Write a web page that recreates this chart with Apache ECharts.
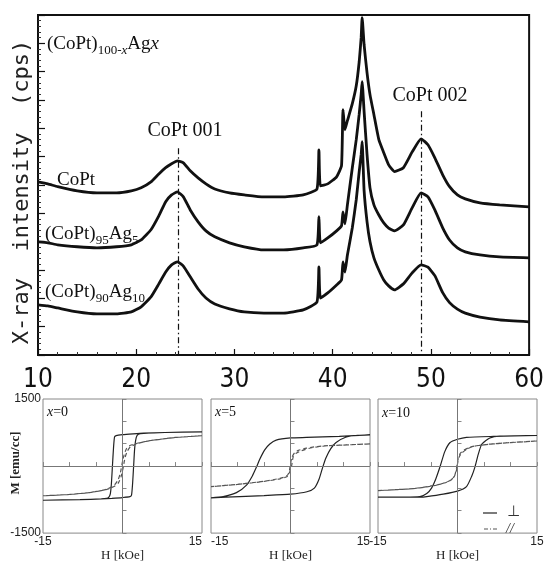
<!DOCTYPE html>
<html>
<head>
<meta charset="utf-8">
<script src="https://cdn.jsdelivr.net/npm/echarts@6/dist/echarts.min.js"></script>
<style>
html, body { margin: 0; padding: 0; background: #fff; }
#main { width: 547px; height: 563px; }
</style>
</head>
<body>
<div id="main"></div>
<script>
// XRD scans, 2theta (deg) and intensity (cps, arbitrary scale)
var twoTheta = [10, 11, 12, 14, 16, 18, 19.5, 20.5, 21.5, 22.3, 23, 23.6, 24.2, 24.8, 25.5, 26.3, 27.1, 28, 29.5, 31, 33, 35, 37,
  38.4, 38.6, 38.75, 39.5, 40.4, 40.9, 41.05, 41.25, 41.5, 42, 42.4, 42.7, 42.9, 43, 43.2, 43.5, 43.8, 44.2, 44.7, 45.2, 45.7,
  46.3, 47.2, 48.1, 49, 49.7, 50.4, 51.2, 51.9, 52.7, 53.5, 55, 57, 60];
var int_CoPt = [611, 604, 594, 579, 572, 572, 579, 590, 611, 639, 661, 675, 685, 678, 650, 625, 604, 586, 572, 565, 558, 558, 565,
  586, 724, 597, 604, 629, 668, 866, 795, 827, 887, 950, 1035, 1120, 1191, 1095, 996, 919, 848, 760, 714, 671,
  647, 661, 717, 763, 742, 696, 636, 594, 565, 551, 537, 530, 523];
var int_Ag5 = [399, 396, 389, 382, 378, 382, 389, 406, 442, 491, 541, 565, 576, 558, 512, 470, 438, 417, 396, 382, 371, 371, 378,
  389, 488, 396, 413, 438, 456, 505, 463, 530, 661, 760, 850, 920, 965, 859, 707, 590, 530, 494, 466, 448,
  438, 459, 520, 572, 558, 512, 449, 406, 378, 364, 353, 346, 343];
var int_Ag10 = [177, 173, 166, 152, 145, 145, 152, 170, 205, 251, 293, 318, 329, 314, 276, 233, 201, 180, 163, 152, 148, 148, 159,
  187, 311, 201, 219, 247, 265, 329, 293, 353, 449, 548, 647, 707, 753, 580, 470, 400, 343, 300, 265, 244,
  230, 251, 290, 318, 310, 280, 220, 185, 162, 148, 134, 124, 117];
var xrdTicks = [10, 20, 30, 40, 50, 60];
var peak001 = 24.25, peak002 = 49.0;

// M-H loops, H [kOe], M [emu/cc]; perp = solid, par = dashed
var x0_perp_H = [15, 8, 4, 2, 0, -1.2, -1.5, -1.7, -1.9, -2.1, -2.3, -2.6, -3, -4, -8, -15,
  -8, -4, -2, 0, 1.4, 1.7, 1.9, 2.1, 2.3, 2.6, 3, 4, 8, 15];
var x0_perp_M = [765, 750, 735, 720, 702, 682, 650, 400, 0, -400, -620, -700, -722, -735, -750, -765,
  -750, -735, -722, -705, -685, -650, -400, 0, 400, 640, 710, 728, 750, 765];
var x0_par_H = [15, 10, 5, 3, 1.5, 0.8, 0.3, 0, -0.4, -0.8, -1.5, -3, -6, -10, -15,
  -10, -6, -3, -1.5, -0.8, -0.3, 0.1, 0.5, 0.9, 1.5, 3, 5, 10, 15];
var x0_par_M = [680, 640, 565, 515, 465, 400, 250, 100, -150, -300, -420, -520, -590, -635, -665,
  -635, -590, -525, -450, -380, -250, -50, 200, 330, 430, 510, 565, 640, 680];

var x5_perp_H = [15, 9.2, 3, 0, -2.7, -3.9, -4.9, -5.8, -6.4, -7.2, -8.3, -10.2, -12.7, -15,
  -9.6, -5, 0, 3.1, 4.5, 5.4, 6.1, 6.7, 7.6, 8.6, 10.4, 12.3, 15];
var x5_perp_M = [697, 663, 640, 629, 581, 493, 357, 153, -17, -221, -425, -595, -683, -710,
  -683, -660, -629, -575, -493, -289, -17, 187, 391, 527, 643, 683, 697];
var x5_par_H = [15, 10, 6, 3, 1.5, 0.8, 0.3, 0, -0.3, -0.8, -2, -5, -10, -15,
  -10, -5, -2, -0.6, -0.2, 0.2, 0.5, 1, 2, 4, 7, 10, 15];
var x5_par_M = [495, 470, 450, 400, 350, 300, 200, 50, -150, -230, -275, -340, -410, -460,
  -410, -345, -285, -235, -150, 0, 200, 280, 340, 410, 455, 470, 495];

var x10_perp_H = [15, 6.8, 1.7, 0, -1.4, -2.4, -3.3, -4.1, -4.9, -5.8, -7.1, -15,
  -7, -5.8, -2.7, 0, 1.7, 2.7, 3.3, 3.9, 4.6, 6.1, 8, 15];
var x10_perp_M = [683, 663, 643, 600, 527, 323, -17, -289, -493, -615, -683, -697,
  -695, -683, -629, -561, -459, -221, -17, 255, 493, 629, 670, 683];
var x10_par_H = [15, 10, 6.8, 4, 2.4, 1, 0.5, 0.1, -0.2, -0.5, -1.2, -2.5, -4, -8, -15,
  -8, -4, -1.5, -0.6, -0.2, 0, 0.3, 0.8, 1.8, 3, 6, 10, 15];
var x10_par_M = [560, 525, 495, 460, 425, 340, 280, 150, -50, -200, -310, -380, -425, -500, -550,
  -500, -430, -330, -230, -100, 50, 200, 290, 380, 440, 490, 525, 560];

function zip(a, b) {
  var res = [];
  for (var i = 0; i < a.length; i++) res.push([a[i], b[i]]);
  return res;
}

var serif = 'Liberation Serif, DejaVu Serif, serif';
var sans = 'Liberation Sans, Arial, sans-serif';

var chart = echarts.init(document.getElementById('main'));

// top XRD grid + three hysteresis panels
var grids = [
  {left: 38, top: 15, width: 497, height: 340, show: true, borderColor: '#111', borderWidth: 2},
  {left: 43, top: 399, width: 159, height: 147, show: true, borderColor: '#888', borderWidth: 1},
  {left: 211, top: 399, width: 159, height: 147, show: true, borderColor: '#888', borderWidth: 1},
  {left: 378, top: 399, width: 159, height: 147, show: true, borderColor: '#888', borderWidth: 1}
];

var xAxes = [{
  gridIndex: 0, type: 'value', min: 10, max: 60, interval: 10,
  axisLine: {lineStyle: {color: '#111', width: 2}},
  axisTick: {inside: true, length: 6, lineStyle: {color: '#111', width: 1.2}},
  minorTick: {show: true, splitNumber: 5, length: 3, lineStyle: {color: '#333', width: 1}},
  splitLine: {show: false},
  axisLabel: {fontSize: 26, color: '#111', margin: 12, fontFamily: 'Liberation Sans Narrow, DejaVu Sans Condensed, sans-serif'}
}];
var yAxes = [{
  gridIndex: 0, type: 'value', min: 0, max: 1200, interval: 100,
  axisLine: {lineStyle: {color: '#111', width: 2}},
  axisTick: {inside: true, length: 7, lineStyle: {color: '#111', width: 1.2}},
  minorTick: {show: true, splitNumber: 5, length: 3, lineStyle: {color: '#333', width: 1}},
  splitLine: {show: false},
  axisLabel: {show: false}
}];

var minAlign = ['center', 'left', 'center'];
var maxAlign = ['right', 'right', 'center'];
for (var g = 1; g <= 3; g++) {
  xAxes.push({
    gridIndex: g, type: 'value', min: -15, max: 15, interval: 5,
    axisLine: {show: false},
    axisTick: {inside: true, length: 4, lineStyle: {color: '#888'}},
    splitLine: {show: false},
    axisLabel: {
      fontSize: 12, color: '#222', margin: 3, fontFamily: sans,
      alignMinLabel: minAlign[g - 1], alignMaxLabel: maxAlign[g - 1],
      formatter: function (v) { return (v === -15 || v === 15) ? String(v) : ''; }
    },
    name: 'H [kOe]', nameLocation: 'middle', nameGap: 6,
    nameTextStyle: {fontSize: 13, color: '#222', fontFamily: serif}
  });
  yAxes.push({
    gridIndex: g, type: 'value', min: -1500, max: 1500, interval: 500,
    axisLine: {show: false},
    axisTick: {inside: true, length: 4, lineStyle: {color: '#888'}},
    splitLine: {show: false},
    axisLabel: {
      show: g === 1, fontSize: 12, color: '#222', margin: 2, fontFamily: sans,
      formatter: function (v) { return (v === -1500 || v === 1500) ? String(v) : ''; }
    }
  });
}

var traceStyle = {color: '#111', width: 2.8};
var series = [
  {
    type: 'line', xAxisIndex: 0, yAxisIndex: 0, data: zip(twoTheta, int_CoPt),
    showSymbol: false, smooth: 0.15, lineStyle: traceStyle,
    markLine: {
      silent: true, symbol: 'none', label: {show: false},
      lineStyle: {color: '#111', width: 1.2, type: [6, 3, 1.5, 3]},
      data: [
        [{coord: [peak001, 730]}, {coord: [peak001, 0]}],
        [{coord: [peak002, 860]}, {coord: [peak002, 0]}]
      ]
    }
  },
  {type: 'line', xAxisIndex: 0, yAxisIndex: 0, data: zip(twoTheta, int_Ag5), showSymbol: false,
    smooth: 0.15, lineStyle: traceStyle},
  {type: 'line', xAxisIndex: 0, yAxisIndex: 0, data: zip(twoTheta, int_Ag10), showSymbol: false,
    smooth: 0.15, lineStyle: traceStyle}
];

var loops = [
  [x0_perp_H, x0_perp_M, x0_par_H, x0_par_M],
  [x5_perp_H, x5_perp_M, x5_par_H, x5_par_M],
  [x10_perp_H, x10_perp_M, x10_par_H, x10_par_M]
];
for (var k = 0; k < 3; k++) {
  series.push({
    type: 'line', xAxisIndex: k + 1, yAxisIndex: k + 1, data: zip(loops[k][0], loops[k][1]),
    showSymbol: false, smooth: 0.2, lineStyle: {color: '#222', width: 1.2},
    markLine: {
      silent: true, symbol: 'none', label: {show: false},
      lineStyle: {color: '#777', width: 1, type: 'solid'},
      data: [{xAxis: 0}, {yAxis: 0}]
    },
    z: 3
  });
  series.push({
    type: 'line', xAxisIndex: k + 1, yAxisIndex: k + 1, data: zip(loops[k][2], loops[k][3]),
    showSymbol: false, smooth: 0.2, lineStyle: {color: '#555', width: 1.2, type: [4, 3]},
    z: 3
  });
}

var subRich = {
  a: {fontSize: 19, fontFamily: serif, color: '#111', lineHeight: 26},
  ai: {fontSize: 19, fontFamily: serif, fontStyle: 'italic', color: '#111', lineHeight: 26},
  s: {fontSize: 13, fontFamily: serif, color: '#111', lineHeight: 13, verticalAlign: 'bottom'},
  si: {fontSize: 13, fontFamily: serif, fontStyle: 'italic', color: '#111', lineHeight: 13, verticalAlign: 'bottom'}
};

function label(x, y, text, opts) {
  return {
    type: 'text', x: x, y: y, z: 10, silent: true,
    style: Object.assign({text: text, fill: '#111', align: 'left', verticalAlign: 'middle'}, opts)
  };
}

var graphics = [
  label(47, 44, '{a|(CoPt)}{s|100-}{si|x}{a|Ag}{ai|x}', {rich: subRich}),
  label(185, 131, 'CoPt 001', {font: '20px ' + serif, align: 'center'}),
  label(430, 96, 'CoPt 002', {font: '20px ' + serif, align: 'center'}),
  label(57, 180, 'CoPt', {font: '19px ' + serif}),
  label(45, 234, '{a|(CoPt)}{s|95}{a|Ag}{s|5}', {rich: subRich}),
  label(45, 292, '{a|(CoPt)}{s|90}{a|Ag}{s|10}', {rich: subRich}),
  {
    type: 'text', x: 22, y: 192, rotation: Math.PI / 2, silent: true,
    style: {text: 'X-ray  intensity  (cps)', font: '22px DejaVu Sans Mono, monospace', fill: '#222',
      align: 'center', verticalAlign: 'middle'}
  },
  {
    type: 'text', x: 16, y: 463, rotation: Math.PI / 2, silent: true,
    style: {text: 'M [emu/cc]', font: 'bold 13px ' + serif, fill: '#222', align: 'center', verticalAlign: 'middle'}
  },
  label(47, 412, '{i|x}{n|=0}', {rich: {i: {fontSize: 14, fontFamily: serif, fontStyle: 'italic'}, n: {fontSize: 14, fontFamily: serif}}}),
  label(215, 412, '{i|x}{n|=5}', {rich: {i: {fontSize: 14, fontFamily: serif, fontStyle: 'italic'}, n: {fontSize: 14, fontFamily: serif}}}),
  label(382, 413, '{i|x}{n|=10}', {rich: {i: {fontSize: 14, fontFamily: serif, fontStyle: 'italic'}, n: {fontSize: 14, fontFamily: serif}}}),
  {type: 'line', silent: true, shape: {x1: 483, y1: 513, x2: 497, y2: 513}, style: {stroke: '#222', lineWidth: 1.2}},
  label(507, 512, '\u22a5', {font: '15px DejaVu Sans, sans-serif', fill: '#333'}),
  {type: 'line', silent: true, shape: {x1: 484, y1: 529, x2: 498, y2: 529}, style: {stroke: '#555', lineWidth: 1.2, lineDash: [4, 2, 1, 2]}},
  label(506, 529, '//', {font: 'italic 14px ' + serif, fill: '#333'})
];

var option = {
  animation: false,
  backgroundColor: '#fff',
  grid: grids,
  xAxis: xAxes,
  yAxis: yAxes,
  series: series,
  graphic: graphics
};
chart.setOption(option);
</script>
</body>
</html>
